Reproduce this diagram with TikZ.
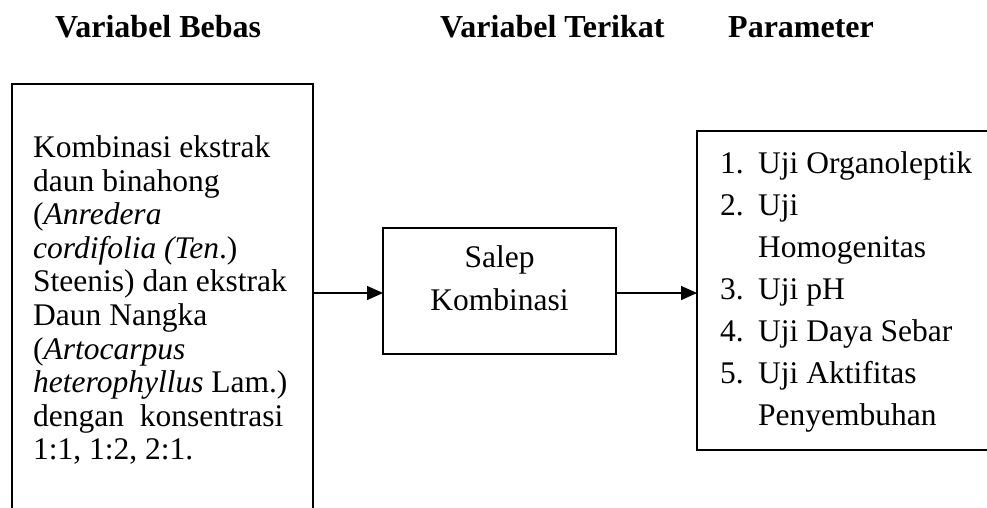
\documentclass[tikz,border=0pt]{standalone}
\usepackage{fontspec}
\setmainfont{Liberation Serif}
\usetikzlibrary{arrows.meta,calc}
\tikzset{
  boxline/.style={draw=black, line width=1.4pt, inner sep=0pt, outer sep=0pt},
  heading/.style={font=\fontsize{32}{36}\selectfont\bfseries, inner sep=0pt, anchor=base west},
  arr/.style={line width=1.4pt, -{Triangle[length=16pt,width=14pt]}},
  bodytext/.style={inner sep=0pt, align=left}
}
\begin{document}
\begin{tikzpicture}[x=1pt,y=-1pt]
\useasboundingbox (0,0) rectangle (987,507);
\clip (0,0) rectangle (987,507);
% headings
\node[heading] (h1) at (55,37) {Variabel Bebas};
\node[heading] (h2) at (440,37) {Variabel Terikat};
\node[heading] (h3) at (728,37) {Parameter};
% boxes
\node[boxline, minimum width=301pt, minimum height=460pt, anchor=north west] (lbox) at (12,84) {};
\node[boxline, minimum width=233pt, minimum height=126pt, anchor=north west] (mbox) at (383,228) {};
\node[boxline, minimum width=320pt, minimum height=319pt, anchor=north west] (rbox) at (697,131) {};
% left text
\node[bodytext, anchor=north west, font=\fontsize{31.5}{33.6}\selectfont] (ltext) at (33,135.5) {%
Kombinasi ekstrak\\
daun binahong\\
(\textit{Anredera}\\
\textit{cordifolia (Ten}.)\\
Steenis) dan ekstrak\\
Daun Nangka\\
(\textit{Artocarpus}\\
\textit{heterophyllus} Lam.)\\
dengan\ \ konsentrasi\\
1:1, 1:2, 2:1.};
% middle text
\node[inner sep=0pt, align=center, font=\fontsize{31.5}{43}\selectfont, anchor=north] (mtext) at ($(mbox.north)+(0,17.5)$) {Salep\\Kombinasi};
% right list
\node[bodytext, anchor=north west, font=\fontsize{31.5}{42}\selectfont] (rtext) at (720,151.5) {%
\makebox[38pt][l]{1.}Uji Organoleptik\\
\makebox[38pt][l]{2.}Uji\\
\makebox[38pt][l]{}Homogenitas\\
\makebox[38pt][l]{3.}Uji pH\\
\makebox[38pt][l]{4.}Uji Daya Sebar\\
\makebox[38pt][l]{5.}Uji Aktifitas\\
\makebox[38pt][l]{}Penyembuhan};
% arrows
\coordinate (a1) at ($(lbox.north east)+(0,209)$);
\draw[arr] (a1) -- (mbox.west |- a1);
\draw[arr] (mbox.east |- a1) -- (rbox.west |- a1);
\end{tikzpicture}
\end{document}
